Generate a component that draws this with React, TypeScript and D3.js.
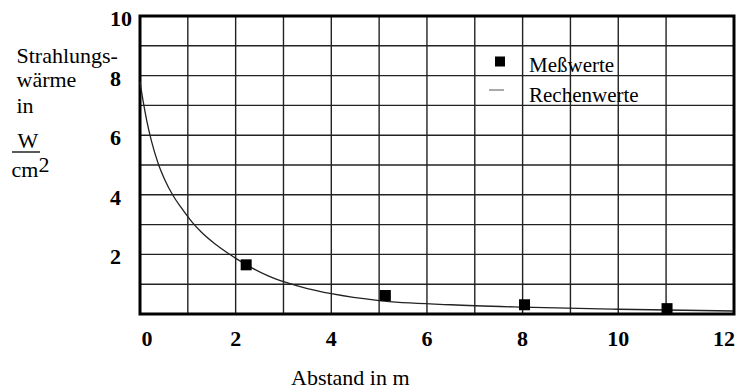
import React from "react";
import * as d3 from "d3";

// ---- data ----
const measuredX = [2.22, 5.13, 8.04, 11.02];
const measuredY = [1.65, 0.62, 0.31, 0.18];

const calcX = [0, 0.07, 0.14, 0.24, 0.38, 0.52, 0.7, 0.87, 1.08, 1.28, 1.57, 1.85, 2.02, 2.34, 2.68, 3.07, 3.5, 4.0, 5.0, 6.5, 8, 10, 12.4];
const calcY = [7.8, 7.1, 6.5, 5.8, 5.05, 4.5, 3.95, 3.55, 3.1, 2.75, 2.35, 2.03, 1.85, 1.55, 1.28, 1.05, 0.85, 0.68, 0.45, 0.31, 0.23, 0.16, 0.1];

const xTickValues = [0, 2, 4, 6, 8, 10, 12];
const yTickValues = [2, 4, 6, 8, 10];
const xGridValues = [1, 2, 3, 4, 5, 6, 7, 8, 9, 10, 11];
const yGridValues = [1, 2, 3, 4, 5, 6, 7, 8, 9];

const legendLabels = ["Meßwerte", "Rechenwerte"];
const yTitleLines = ["Strahlungs-", "wärme", "in"];
const xTitle = "Abstand in m";

// ---- layout ----
const W = 745;
const H = 389;
const plot = { left: 140, right: 734, top: 16, bottom: 314 };
const txt = { fontFamily: '"Liberation Serif"' } as React.CSSProperties;

export default function App() {
  const x = d3.scaleLinear().domain([0, 12.42]).range([plot.left, plot.right]);
  const y = d3.scaleLinear().domain([0, 10]).range([plot.bottom, plot.top]);

  const line = d3
    .line<number>()
    .x((_, i) => x(calcX[i]))
    .y((_, i) => y(calcY[i]))
    .curve(d3.curveMonotoneX);

  const sq = 11;

  return (
    <svg width={W} height={H} style={{ position: "absolute", left: 0, top: 0, background: "#fff" }}>
      <rect x={0} y={0} width={W} height={H} fill="#fff" />

      {/* grid */}
      {xGridValues.map((v) => (
        <line key={"gx" + v} x1={x(v)} x2={x(v)} y1={plot.top} y2={plot.bottom} stroke="#222" strokeWidth={1.4} />
      ))}
      {yGridValues.map((v) => (
        <line key={"gy" + v} x1={plot.left} x2={plot.right} y1={y(v)} y2={y(v)} stroke="#222" strokeWidth={1.4} />
      ))}

      {/* frame */}
      <rect
        x={plot.left}
        y={plot.top}
        width={plot.right - plot.left}
        height={plot.bottom - plot.top}
        fill="none"
        stroke="#000"
        strokeWidth={3}
      />

      {/* calculated curve */}
      <path d={line(calcY) || ""} fill="none" stroke="#222" strokeWidth={1.3} />

      {/* measured points */}
      {measuredX.map((v, i) => (
        <rect key={"m" + i} x={x(v) - sq / 2} y={y(measuredY[i]) - sq / 2} width={sq} height={sq} fill="#000" />
      ))}

      {/* legend */}
      <rect x={495} y={56.5} width={10} height={10} fill="#000" />
      <line x1={489} x2={504} y1={90} y2={90} stroke="#555" strokeWidth={1} />
      <text style={txt} x={529} y={72} fontSize={21} fill="#000">{legendLabels[0]}</text>
      <text style={txt} x={529} y={101.5} fontSize={21} fill="#000">{legendLabels[1]}</text>

      {/* y tick labels */}
      {yTickValues.map((v) => (
        <text style={txt} key={"yt" + v} x={110} y={y(v) + 10} fontSize={22} fontWeight={700} fill="#000">
          {v}
        </text>
      ))}

      {/* x tick labels */}
      {xTickValues.map((v, i) => {
        const first = i === 0;
        const last = i === xTickValues.length - 1;
        return (
          <text
            style={txt}
            key={"xt" + v}
            x={first ? x(v) + 1.5 : last ? plot.right + 1 : x(v)}
            y={346}
            fontSize={22}
            fontWeight={700}
            textAnchor={first ? "start" : last ? "end" : "middle"}
            fill="#000"
          >
            {v}
          </text>
        );
      })}

      {/* y title */}
      {yTitleLines.map((t, i) => (
        <text style={txt} key={"yl" + i} x={16.5} y={[63, 87, 113][i]} fontSize={22} fill="#000">
          {t}
        </text>
      ))}
      <text style={txt} x={28} y={148} fontSize={22} textAnchor="middle" fill="#000">W</text>
      <line x1={12} x2={40} y1={152} y2={152} stroke="#000" strokeWidth={1.3} />
      <text style={txt} x={11.5} y={177} fontSize={22} fill="#000">
        cm<tspan dy={-5.5}>2</tspan>
      </text>

      {/* x title */}
      <text style={txt} x={291} y={385} fontSize={22} fill="#000">{xTitle}</text>
    </svg>
  );
}
